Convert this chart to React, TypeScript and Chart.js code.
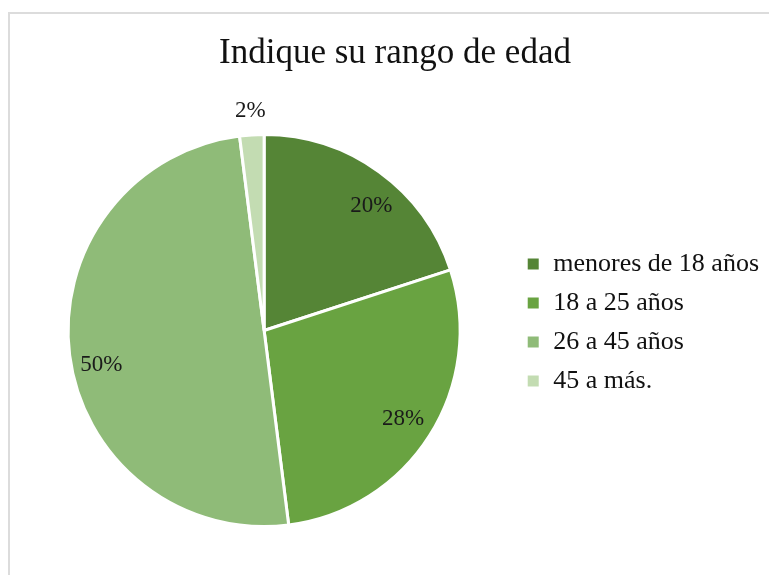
import React, { useEffect, useRef } from "react";
import { Chart, registerables } from "chart.js";

Chart.register(...registerables);

const titleText = "Indique su rango de edad";
const categories = ["menores de 18 años", "18 a 25 años", "26 a 45 años", "45 a más."];
const values = [20, 28, 50, 2];
const percentLabels = ["20%", "28%", "50%", "2%"];
const colors = ["#558536", "#69a341", "#8fbb78", "#c3dcb2"];

const SERIF = "'Liberation Serif', 'Times New Roman', serif";

// label placement tweaks (angle offset in degrees, radial factor)
const labelAngleOffsets = [4.6, 0, -4.9, 0];
const labelRadial = [0.84, 0.84, 0.85, 1.12];

const legendShift = {
  id: "legendShift",
  afterLayout(chart: any) {
    const lg = chart.legend;
    if (lg) {
      lg.top -= 8;
      lg.bottom -= 8;
    }
  },
};

const titlePlugin = {
  id: "titleDraw",
  afterDraw(chart: any) {
    const ctx = chart.ctx;
    ctx.save();
    ctx.font = `35px ${SERIF}`;
    ctx.fillStyle = "#111";
    ctx.textAlign = "center";
    ctx.textBaseline = "alphabetic";
    ctx.fillText(titleText, 395, 63);
    ctx.restore();
  },
};

const pctLabels = {
  id: "pctLabels",
  afterDatasetsDraw(chart: any) {
    const ctx = chart.ctx;
    const meta = chart.getDatasetMeta(0);
    ctx.save();
    ctx.font = `23px ${SERIF}`;
    ctx.fillStyle = "#1a1a1a";
    ctx.textAlign = "center";
    ctx.textBaseline = "middle";
    meta.data.forEach((arc: any, i: number) => {
      const p = arc.getProps(["x", "y", "startAngle", "endAngle", "outerRadius"], true);
      const mid = (p.startAngle + p.endAngle) / 2 + (labelAngleOffsets[i] * Math.PI) / 180;
      const f = labelRadial[i];
      const x = p.x + Math.cos(mid) * p.outerRadius * f;
      const y = p.y + Math.sin(mid) * p.outerRadius * f;
      ctx.fillText(percentLabels[i], x, y);
    });
    ctx.restore();
  },
};

export default function App() {
  const ref = useRef<HTMLCanvasElement>(null);
  useEffect(() => {
    if (!ref.current) return;
    const chart = new Chart(ref.current, {
      type: "pie",
      data: {
        labels: categories,
        datasets: [
          {
            data: values,
            backgroundColor: colors,
            borderColor: "#ffffff",
            borderWidth: 3,
          },
        ],
      },
      options: {
        animation: false,
        responsive: false,
        layout: { padding: { left: 15, right: 0, top: 133, bottom: 47 } },
        plugins: {
          title: { display: false },
          legend: {
            position: "right",
            labels: {
              boxWidth: 14,
              boxHeight: 14,
              padding: 13,
              color: "#111",
              font: { family: SERIF, size: 26 },
            },
          },
          tooltip: { enabled: false },
        },
      },
      plugins: [legendShift, pctLabels, titlePlugin],
    });
    return () => chart.destroy();
  }, []);
  return (
    <div
      style={{
        position: "absolute",
        left: 0,
        top: 0,
        width: 769,
        height: 575,
        overflow: "hidden",
        background: "#fff",
      }}
    >
      <div
        style={{
          position: "absolute",
          left: 8,
          top: 12,
          width: 900,
          height: 700,
          borderTop: "2px solid #dcdcdc",
          borderLeft: "2px solid #dcdcdc",
        }}
      />
      <canvas
        ref={ref}
        width={769}
        height={575}
        style={{ position: "absolute", left: 0, top: 0, width: 769, height: 575 }}
      />
    </div>
  );
}
